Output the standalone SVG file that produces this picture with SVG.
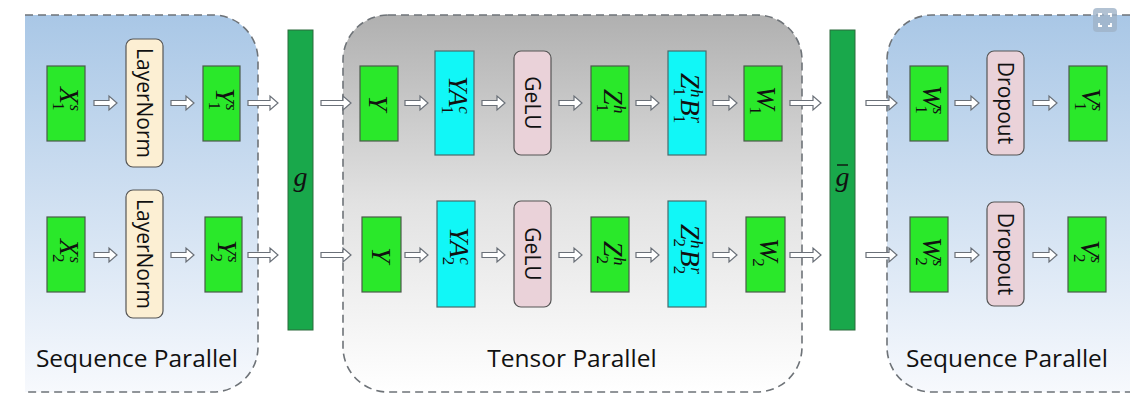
<svg xmlns="http://www.w3.org/2000/svg" width="1130" height="419" viewBox="0 0 1130 419">
<defs>
<linearGradient id="gBlue" x1="0" y1="0" x2="0" y2="1"><stop offset="0" stop-color="#a9c7e6"/><stop offset="1" stop-color="#f7f9fd"/></linearGradient>
<linearGradient id="gGray" x1="0" y1="0" x2="0" y2="1"><stop offset="0" stop-color="#b0b0b0"/><stop offset="0.5" stop-color="#e2e2e2"/><stop offset="1" stop-color="#ffffff"/></linearGradient>
<style>
.panel{stroke:#6e7378;stroke-width:1.6;stroke-dasharray:8 5}
.g{fill:#2ae82a;stroke:#4a5a4a;stroke-width:1.2}
.c{fill:#11f7f7;stroke:#4a6a6a;stroke-width:1.2}
.ln{fill:#fcefd3;stroke:#555;stroke-width:1.2}
.pk{fill:#ead2d9;stroke:#555;stroke-width:1.2}
.bar{fill:#19a84b;stroke:#2c6b3c;stroke-width:1}
.arr{fill:#fff;stroke:#6a7078;stroke-width:1.2}
.m{font-family:"Liberation Serif",serif;font-style:italic;font-size:28px;fill:#111}
.s{font-size:17px}
.n{font-style:normal}
.lbl{font-family:"Open Sans","Liberation Sans",sans-serif;font-size:21px;fill:#111}
.big{font-family:"Open Sans","Liberation Sans",sans-serif;font-size:24.5px;fill:#111}
</style>
</defs>
<g id="panels">
<path class="panel" fill="url(#gBlue)" d="M25,15 H213 A45,45 0 0 1 258,60 V347 A45,45 0 0 1 213,392 H25"/>
<rect class="panel" fill="url(#gGray)" x="343" y="15" width="459" height="377" rx="45"/>
<path class="panel" fill="url(#gBlue)" d="M1130,15 H932 A45,45 0 0 0 887,60 V347 A45,45 0 0 0 932,392 H1130"/>
<text class="big" x="137" y="367" text-anchor="middle">Sequence Parallel</text>
<text class="big" x="572" y="367" text-anchor="middle">Tensor Parallel</text>
<text class="big" x="1007" y="367" text-anchor="middle">Sequence Parallel</text>
</g>
<g id="connectors">
<path class="arr" d="M94,100.5 H109 V96 L117,103 L109,110 V105.5 H94 Z"/>
<path class="arr" d="M171,100.5 H186 V96 L194,103 L186,110 V105.5 H171 Z"/>
<path class="arr" d="M248,100.5 H270 V96 L278,103 L270,110 V105.5 H248 Z"/>
<path class="arr" d="M94,252.5 H109 V248 L117,255 L109,262 V257.5 H94 Z"/>
<path class="arr" d="M171,252.5 H186 V248 L194,255 L186,262 V257.5 H171 Z"/>
<path class="arr" d="M248,252.5 H270 V248 L278,255 L270,262 V257.5 H248 Z"/>
<path class="arr" d="M321,100.5 H343 V96 L351,103 L343,110 V105.5 H321 Z"/>
<path class="arr" d="M321,252.5 H343 V248 L351,255 L343,262 V257.5 H321 Z"/>
<path class="arr" d="M405,100.5 H420 V96 L428,103 L420,110 V105.5 H405 Z"/>
<path class="arr" d="M482,100.5 H497 V96 L505,103 L497,110 V105.5 H482 Z"/>
<path class="arr" d="M559,100.5 H574 V96 L582,103 L574,110 V105.5 H559 Z"/>
<path class="arr" d="M636,100.5 H651 V96 L659,103 L651,110 V105.5 H636 Z"/>
<path class="arr" d="M713,100.5 H729 V96 L737,103 L729,110 V105.5 H713 Z"/>
<path class="arr" d="M790,100.5 H813 V96 L821,103 L813,110 V105.5 H790 Z"/>
<path class="arr" d="M405,252.5 H420 V248 L428,255 L420,262 V257.5 H405 Z"/>
<path class="arr" d="M482,252.5 H497 V248 L505,255 L497,262 V257.5 H482 Z"/>
<path class="arr" d="M559,252.5 H574 V248 L582,255 L574,262 V257.5 H559 Z"/>
<path class="arr" d="M636,252.5 H651 V248 L659,255 L651,262 V257.5 H636 Z"/>
<path class="arr" d="M713,252.5 H729 V248 L737,255 L729,262 V257.5 H713 Z"/>
<path class="arr" d="M790,252.5 H813 V248 L821,255 L813,262 V257.5 H790 Z"/>
<path class="arr" d="M866,100.5 H889 V96 L897,103 L889,110 V105.5 H866 Z"/>
<path class="arr" d="M866,252.5 H889 V248 L897,255 L889,262 V257.5 H866 Z"/>
<path class="arr" d="M955,100.5 H971 V96 L979,103 L971,110 V105.5 H955 Z"/>
<path class="arr" d="M1033,100.5 H1049 V96 L1057,103 L1049,110 V105.5 H1033 Z"/>
<path class="arr" d="M955,252.5 H971 V248 L979,255 L971,262 V257.5 H955 Z"/>
<path class="arr" d="M1033,252.5 H1049 V248 L1057,255 L1049,262 V257.5 H1033 Z"/>
</g>
<g id="X1"><rect class="g" x="47" y="66" width="38" height="75"/><text class="m" transform="translate(66,103) rotate(90)" x="-16" y="6">X<tspan class="s n" dx="-2" dy="7">1</tspan><tspan class="s" dx="-6" dy="-17">s</tspan></text></g>
<g id="LN1"><rect class="ln" x="126" y="39" width="37" height="128" rx="7"/><text class="lbl" transform="translate(144.5,103) rotate(90)" text-anchor="middle" y="7.5">LayerNorm</text></g>
<g id="Y1s"><rect class="g" x="203" y="66" width="37" height="75"/><text class="m" transform="translate(221.5,103) rotate(90)" x="-15" y="6">Y<tspan class="s n" dx="-2" dy="7">1</tspan><tspan class="s" dx="-6" dy="-17">s</tspan></text></g>
<g id="X2"><rect class="g" x="47" y="217" width="38" height="75"/><text class="m" transform="translate(66,255) rotate(90)" x="-16" y="6">X<tspan class="s n" dx="-2" dy="7">2</tspan><tspan class="s" dx="-6" dy="-17">s</tspan></text></g>
<g id="LN2"><rect class="ln" x="126" y="190" width="37" height="128" rx="7"/><text class="lbl" transform="translate(144.5,254) rotate(90)" text-anchor="middle" y="7.5">LayerNorm</text></g>
<g id="Y2s"><rect class="g" x="205" y="217" width="37" height="75"/><text class="m" transform="translate(223.5,255) rotate(90)" x="-15" y="6">Y<tspan class="s n" dx="-2" dy="7">2</tspan><tspan class="s" dx="-6" dy="-17">s</tspan></text></g>
<g id="gbar"><rect class="bar" x="288" y="30" width="25" height="300"/><text class="m" x="300.5" y="186" text-anchor="middle">g</text></g>
<g id="Ya"><rect class="g" x="360" y="66" width="38" height="75"/><text class="m" transform="translate(379,103) rotate(90)" text-anchor="middle" y="10">Y</text></g>
<g id="YA1"><rect class="c" x="435" y="51" width="39" height="104"/><text class="m" transform="translate(454.5,103) rotate(90)" x="-27" y="6">YA<tspan class="s n" dx="-1" dy="7">1</tspan><tspan class="s" dx="-8" dy="-17">c</tspan></text></g>
<g id="GeLU1"><rect class="pk" x="514" y="51" width="37" height="104" rx="7"/><text class="lbl" transform="translate(532.5,103) rotate(90)" text-anchor="middle" y="7.5">GeLU</text></g>
<g id="Z1"><rect class="g" x="591" y="66" width="38" height="75"/><text class="m" transform="translate(610,103) rotate(90)" x="-14" y="6">Z<tspan class="s n" dx="-1" dy="7">1</tspan><tspan class="s" dx="-7" dy="-17">h</tspan></text></g>
<g id="ZB1"><rect class="c" x="668" y="51" width="38" height="104"/><text class="m" transform="translate(687,103) rotate(90)" x="-30" y="6">Z<tspan class="s n" dx="-1" dy="7">1</tspan><tspan class="s" dx="-7" dy="-17">h</tspan><tspan dx="1" dy="10">B</tspan><tspan class="s n" dx="-1" dy="7">1</tspan><tspan class="s" dx="-7" dy="-17">r</tspan></text></g>
<g id="W1"><rect class="g" x="744" y="66" width="38" height="75"/><text class="m" transform="translate(763,103) rotate(90)" x="-17" y="6">W<tspan class="s n" dx="-3" dy="7">1</tspan></text></g>
<g id="Yb"><rect class="g" x="362" y="217" width="39" height="75"/><text class="m" transform="translate(381.5,255) rotate(90)" text-anchor="middle" y="10">Y</text></g>
<g id="YA2"><rect class="c" x="437" y="201" width="38" height="106"/><text class="m" transform="translate(456,254) rotate(90)" x="-27" y="6">YA<tspan class="s n" dx="-1" dy="7">2</tspan><tspan class="s" dx="-8" dy="-17">c</tspan></text></g>
<g id="GeLU2"><rect class="pk" x="514" y="201" width="37" height="106" rx="7"/><text class="lbl" transform="translate(532.5,254) rotate(90)" text-anchor="middle" y="7.5">GeLU</text></g>
<g id="Z2"><rect class="g" x="591" y="217" width="38" height="75"/><text class="m" transform="translate(610,255) rotate(90)" x="-14" y="6">Z<tspan class="s n" dx="-1" dy="7">2</tspan><tspan class="s" dx="-7" dy="-17">h</tspan></text></g>
<g id="ZB2"><rect class="c" x="668" y="201" width="38" height="106"/><text class="m" transform="translate(687,254) rotate(90)" x="-30" y="6">Z<tspan class="s n" dx="-1" dy="7">2</tspan><tspan class="s" dx="-7" dy="-17">h</tspan><tspan dx="1" dy="10">B</tspan><tspan class="s n" dx="-1" dy="7">2</tspan><tspan class="s" dx="-7" dy="-17">r</tspan></text></g>
<g id="W2"><rect class="g" x="746" y="217" width="39" height="75"/><text class="m" transform="translate(765.5,255) rotate(90)" x="-17" y="6">W<tspan class="s n" dx="-3" dy="7">2</tspan></text></g>
<g id="gbarbar"><rect class="bar" x="830" y="30" width="25" height="300"/><text class="m" x="842.5" y="186" text-anchor="middle">g</text><line x1="837" y1="165" x2="848" y2="165" stroke="#111" stroke-width="1.4"/></g>
<g id="W1s"><rect class="g" x="910" y="66" width="38" height="75"/><text class="m" transform="translate(929,103) rotate(90)" x="-18" y="6">W<tspan class="s n" dx="-3" dy="7">1</tspan><tspan class="s" dx="-6" dy="-17">s</tspan></text></g>
<g id="Drop1"><rect class="pk" x="987" y="51" width="37" height="104" rx="7"/><text class="lbl" transform="translate(1005.5,103) rotate(90)" text-anchor="middle" y="7.5">Dropout</text></g>
<g id="V1s"><rect class="g" x="1069" y="66" width="38" height="75"/><text class="m" transform="translate(1088,103) rotate(90)" x="-15" y="6">V<tspan class="s n" dx="-3" dy="7">1</tspan><tspan class="s" dx="-6" dy="-17">s</tspan></text></g>
<g id="W2s"><rect class="g" x="910" y="217" width="38" height="75"/><text class="m" transform="translate(929,255) rotate(90)" x="-18" y="6">W<tspan class="s n" dx="-3" dy="7">2</tspan><tspan class="s" dx="-6" dy="-17">s</tspan></text></g>
<g id="Drop2"><rect class="pk" x="987" y="202" width="37" height="104" rx="7"/><text class="lbl" transform="translate(1005.5,254) rotate(90)" text-anchor="middle" y="7.5">Dropout</text></g>
<g id="V2s"><rect class="g" x="1068" y="217" width="38" height="75"/><text class="m" transform="translate(1087,255) rotate(90)" x="-15" y="6">V<tspan class="s n" dx="-3" dy="7">2</tspan><tspan class="s" dx="-6" dy="-17">s</tspan></text></g>
<g id="icon"><rect x="1093" y="8" width="24" height="24" rx="4" fill="#9fb3c8" opacity="0.8"/><path d="M1099,17 V14 H1102 M1108,14 H1111 V17 M1111,23 V26 H1108 M1102,26 H1099 V23" fill="none" stroke="#fff" stroke-width="1.8"/></g>
</svg>
